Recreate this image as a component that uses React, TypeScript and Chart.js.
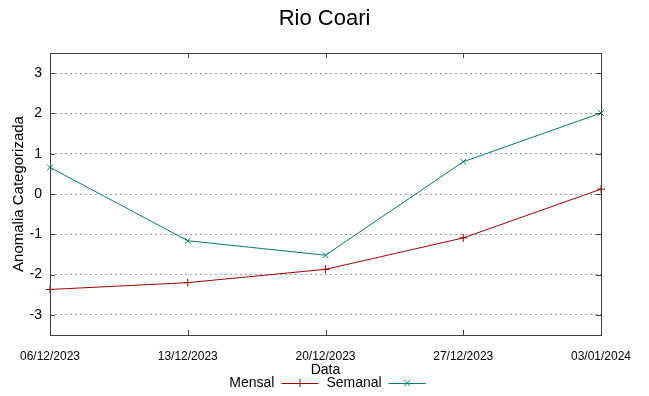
import { useEffect, useRef } from 'react';
import { Chart, registerables } from 'chart.js';

Chart.register(...registerables);

const chartTitle = 'Rio Coari';
const xAxisTitle = 'Data';
const yAxisTitle = 'Anomalia Categorizada';
const dates = ['06/12/2023', '13/12/2023', '20/12/2023', '27/12/2023', '03/01/2024'];
const seriesNames = ['Mensal', 'Semanal'];
const mensal = [-2.37, -2.2, -1.87, -1.09, 0.12];
const semanal = [0.66, -1.16, -1.52, 0.8, 2.01];
const yTicks = [-3, -2, -1, 0, 1, 2, 3];

const REGULAR = "'Liberation Sans', Arial, sans-serif";
const RED = '#a00000';
const TEAL = '#007b7b';

const titlePlugin = {
  id: 'gnuTitle',
  afterDraw(chart: any) {
    const { ctx, width } = chart;
    ctx.save();
    ctx.font = `22px ${REGULAR}`;
    ctx.fillStyle = '#000';
    ctx.textAlign = 'center';
    ctx.textBaseline = 'middle';
    ctx.fillText(chartTitle, width / 2, 18.5);
    ctx.restore();
  },
};

const framePlugin = {
  id: 'gnuFrame',
  afterDatasetsDraw(chart: any) {
    const { ctx, chartArea } = chart;
    const { left, right, top, bottom } = chartArea;
    const ys = chart.scales.y;
    const xs = chart.scales.x;
    const tl = 5;
    ctx.save();
    ctx.strokeStyle = '#404040';
    ctx.lineWidth = 1;
    ctx.setLineDash([]);
    ctx.beginPath();
    yTicks.forEach((v) => {
      const py = Math.round(ys.getPixelForValue(v)) + 0.5;
      ctx.moveTo(left, py);
      ctx.lineTo(left + tl, py);
      ctx.moveTo(right, py);
      ctx.lineTo(right - tl, py);
    });
    dates.forEach((_, i) => {
      const px = Math.round(xs.getPixelForValue(i)) + 0.5;
      ctx.moveTo(px, bottom);
      ctx.lineTo(px, bottom - tl);
      ctx.moveTo(px, top);
      ctx.lineTo(px, top + tl);
    });
    ctx.stroke();
    ctx.strokeRect(Math.round(left) + 0.5, Math.round(top) + 0.5, Math.round(right - left), Math.round(bottom - top));
    ctx.restore();
  },
};

const legendPlugin = {
  id: 'gnuLegend',
  afterDraw(chart: any) {
    const { ctx, chartArea } = chart;
    const y = 383;
    const sample = 37;
    ctx.save();
    ctx.font = `14px ${REGULAR}`;
    ctx.textBaseline = 'middle';
    ctx.textAlign = 'left';
    const ds = chart.data.datasets;
    let total = 0;
    ds.forEach((d: any) => {
      total += ctx.measureText(d.label).width + 7 + sample + 8;
    });
    total -= 8;
    let x = (chartArea.left + chartArea.right) / 2 + 2 - total / 2;
    ds.forEach((d: any) => {
      const w = ctx.measureText(d.label).width;
      ctx.fillStyle = '#000';
      ctx.fillText(d.label, x, y);
      x += w + 7;
      ctx.strokeStyle = d.borderColor;
      ctx.lineWidth = 1;
      ctx.beginPath();
      ctx.moveTo(x, y + 0.5);
      ctx.lineTo(x + sample, y + 0.5);
      const cx = x + sample / 2;
      const r = 4;
      if (d.pointStyle === 'cross') {
        ctx.moveTo(cx, y - r);
        ctx.lineTo(cx, y + r);
      } else {
        ctx.moveTo(cx - r * 0.75, y - r * 0.75);
        ctx.lineTo(cx + r * 0.75, y + r * 0.75);
        ctx.moveTo(cx - r * 0.75, y + r * 0.75);
        ctx.lineTo(cx + r * 0.75, y - r * 0.75);
      }
      ctx.stroke();
      x += sample + 8;
    });
    ctx.restore();
  },
};

export default function App() {
  const ref = useRef<HTMLCanvasElement | null>(null);
  useEffect(() => {
    if (!ref.current) return;
    const chart = new Chart(ref.current, {
      type: 'line',
      data: {
        labels: dates,
        datasets: [
          {
            label: seriesNames[0],
            data: mensal,
            borderColor: RED,
            backgroundColor: RED,
            borderWidth: 1,
            pointStyle: 'cross',
            pointRadius: 4,
            pointBorderWidth: 1,
            pointBorderColor: RED,
            fill: false,
            tension: 0,
          },
          {
            label: seriesNames[1],
            data: semanal,
            borderColor: TEAL,
            backgroundColor: TEAL,
            borderWidth: 1,
            pointStyle: 'crossRot',
            pointRadius: 4,
            pointBorderWidth: 1,
            pointBorderColor: TEAL,
            fill: false,
            tension: 0,
          },
        ],
      },
      options: {
        animation: false,
        responsive: false,
        devicePixelRatio: 1,
        layout: { padding: { left: 0, right: 48, top: 53, bottom: 16 } },
        plugins: {
          legend: { display: false },
          tooltip: { enabled: false },
          title: { display: false },
        },
        scales: {
          x: {
            type: 'category',
            offset: false,
            grid: { display: false, drawTicks: false },
            border: { display: false },
            ticks: {
              color: '#000',
              font: { family: REGULAR, size: 12 },
              padding: 14,
              maxRotation: 0,
              autoSkip: false,
            },
            title: {
              display: true,
              text: xAxisTitle,
              color: '#000',
              font: { family: REGULAR, size: 14 },
              padding: { top: 0, bottom: 1 },
            },
            afterFit: (s: any) => {
              s.height = 45;
            },
          },
          y: {
            type: 'linear',
            min: -3.5,
            max: 3.5,
            afterBuildTicks: (s: any) => {
              s.ticks = yTicks.map((v) => ({ value: v }));
            },
            grid: { color: '#a0a0a0', lineWidth: 1, drawTicks: false },
            border: { display: false, dash: [2, 3] },
            ticks: {
              color: '#000',
              font: { family: REGULAR, size: 14 },
              padding: 8,
            },
            title: {
              display: true,
              text: yAxisTitle,
              color: '#000',
              font: { family: REGULAR, size: 15 },
              padding: { top: 10, bottom: 0 },
            },
            afterFit: (s: any) => {
              s.width = 50;
            },
          },
        },
      } as any,
      plugins: [framePlugin, legendPlugin, titlePlugin],
    });
    return () => chart.destroy();
  }, []);
  return (
    <div style={{ position: 'fixed', left: 0, top: 0, width: 649, height: 396 }}>
      <canvas ref={ref} width={649} height={396} />
    </div>
  );
}
